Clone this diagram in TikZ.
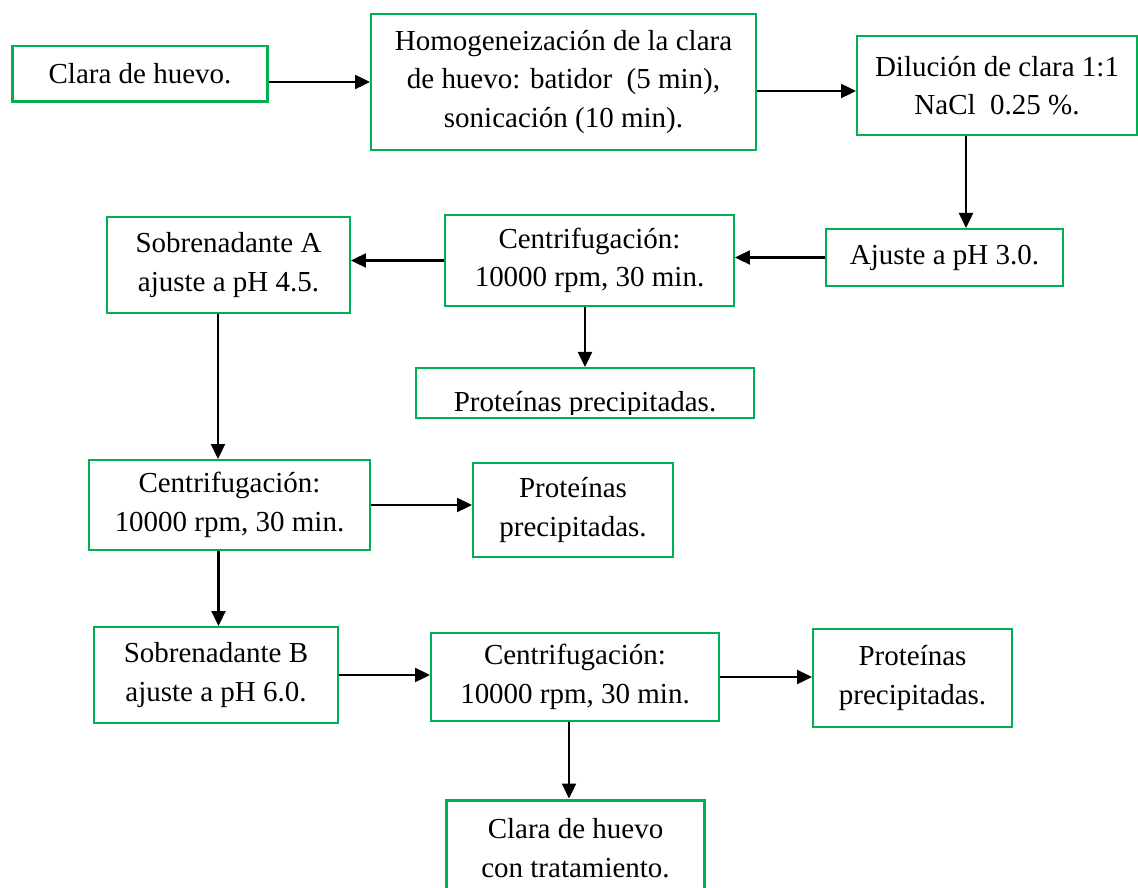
\documentclass[tikz,border=0pt]{standalone}
\usepackage{fontspec}
\setmainfont{Liberation Serif}
\usetikzlibrary{arrows.meta}
\definecolor{boxgreen}{RGB}{0,176,80}

\begin{document}
\begin{tikzpicture}[x=0.02cm,y=-0.02cm,
  every node/.style={text centered,align=center,font=\fontsize{16.5}{22}\selectfont},
  box/.style={draw=boxgreen,line width=1.15pt,inner sep=0pt},
  thickbox/.style={box,line width=1.7pt},
  arr/.style={line width=1.3pt,-{Triangle[length=0.3cm,width=0.28cm]}}]

\useasboundingbox (0,0) rectangle (1138,888);

%%%top row
\node[thickbox,minimum width=5.12cm,minimum height=1.12cm] (clara) at (140,74) {Clara de huevo.};
\node[box,minimum width=7.70cm,minimum height=2.72cm] (homog) at (563.5,82) {Homogeneización de la clara\\de huevo: batidor~~(5 min),\\sonicación (10 min).};
\node[box,minimum width=5.60cm,minimum height=1.98cm] (dil) at (997,85.5) {Dilución de clara 1:1\\NaCl~~0.25~\%.};

%%%second row
\node[box,minimum width=4.74cm,minimum height=1.14cm] (aj) at (944.5,257.5) {Ajuste a pH 3.0.};
\node[box,minimum width=5.78cm,minimum height=1.82cm] (cA) at (589.5,260.5) {Centrifugación:\\10000 rpm, 30 min.};
\node[box,minimum width=4.86cm,minimum height=1.92cm] (sA) at (228.5,265) {Sobrenadante A\\ajuste a pH 4.5.};

\node[box,minimum width=6.76cm,minimum height=1.00cm] (pA) at (585,393) {};
\begin{scope}
\clip (pA.north west) rectangle ([yshift=0.1cm]pA.south east);
\node[anchor=base] (pAtxt) at ([yshift=0.16cm]pA.south) {Proteínas precipitadas.};
\end{scope}

%%%third row
\node[box,minimum width=5.62cm,minimum height=1.80cm] (cB) at (229.5,505) {Centrifugación:\\10000 rpm, 30 min.};
\node[box,minimum width=4.00cm,minimum height=1.88cm] (pB) at (573,510) {Proteínas\\precipitadas.};

%%%bottom
\node[box,minimum width=4.88cm,minimum height=1.92cm] (sB) at (216,675) {Sobrenadante B\\ajuste a pH 6.0.};
\node[box,minimum width=5.76cm,minimum height=1.76cm] (cC) at (575,677) {Centrifugación:\\10000 rpm, 30 min.};
\node[box,minimum width=3.98cm,minimum height=1.96cm] (pC) at (912.5,678) {Proteínas\\precipitadas.};
\node[thickbox,minimum width=5.18cm,minimum height=1.92cm] (fin) at (575.5,848) {Clara de huevo\\con tratamiento.};

%%%arrows
\draw[arr] (clara.east |- homog.west) -- (homog.west);
\draw[arr] ([yshift=-0.18cm]homog.east) -- ([yshift=-0.18cm]homog.east -| dil.west);
\draw[arr] ([xshift=-0.62cm]dil.south) -- ([xshift=-0.62cm]dil.south |- aj.north);
\draw[arr] (aj.west) -- (aj.west -| cA.east);
\draw[arr] (cA.west) -- (cA.west -| sA.east);
\draw[arr] (cA.south -| pA.north) -- (pA.north);
\draw[arr] ([xshift=-0.21cm]sA.south) -- ([xshift=-0.21cm]sA.south |- cB.north);
\draw[arr] (cB.east) -- (cB.east -| pB.west);
\draw[arr] ([xshift=-0.22cm]cB.south) -- ([xshift=-0.22cm]cB.south |- sB.north);
\draw[arr] (sB.east) -- (sB.east -| cC.west);
\draw[arr] (cC.east) -- (cC.east -| pC.west);
\draw[arr] ([xshift=-0.12cm]cC.south) -- ([xshift=-0.12cm]cC.south |- fin.north);

\end{tikzpicture}
\end{document}
